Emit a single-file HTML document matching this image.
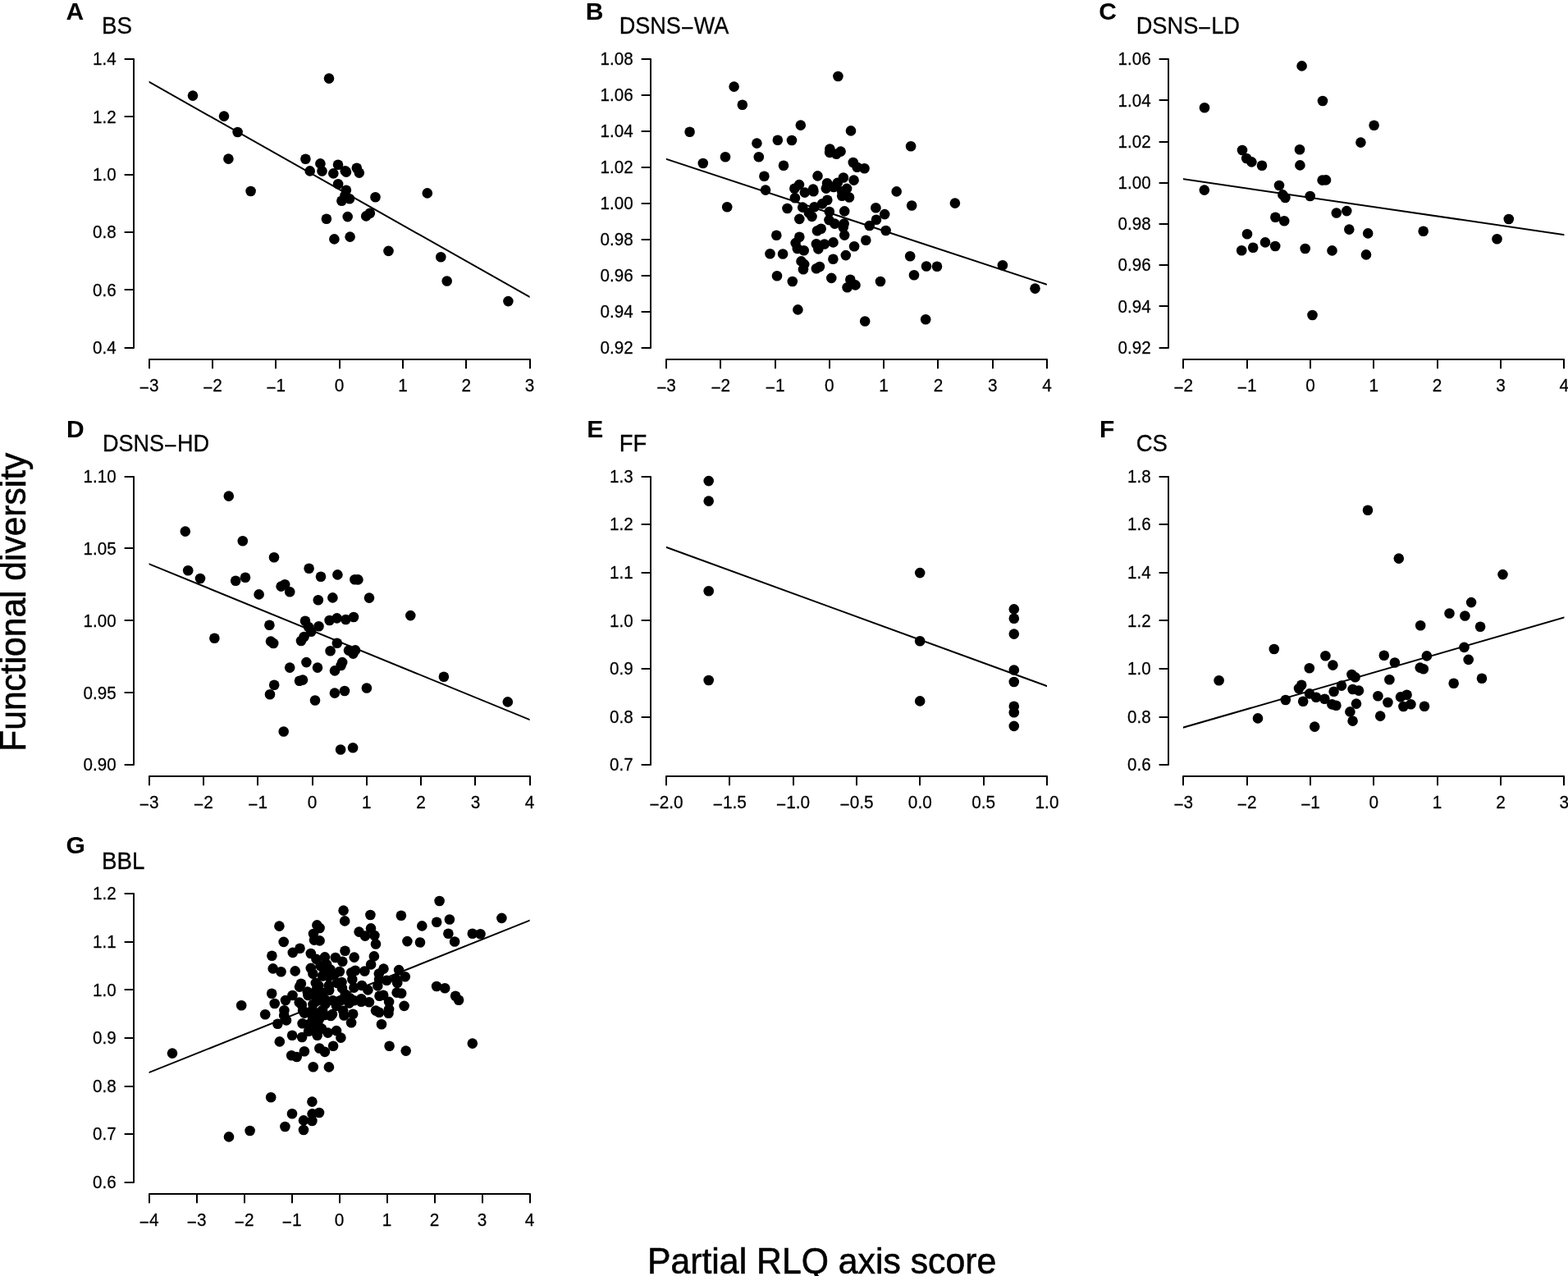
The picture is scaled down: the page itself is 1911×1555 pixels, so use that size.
<!DOCTYPE html>
<html lang="en"><head><meta charset="utf-8"><title>Figure</title>
<style>html,body{margin:0;padding:0;background:#fff}body{width:1911px;height:1555px;overflow:hidden}svg{display:block}text{font-family:"Liberation Sans",Arial,Helvetica,sans-serif;fill:#000}.t{font-size:22.2px;stroke:#000;stroke-width:.25px}.n{font-size:29px;stroke:#000;stroke-width:.3px}.b{font-size:30px;font-weight:bold}.l{font-size:44px;stroke:#000;stroke-width:.6px}.a{stroke:#000;stroke-width:2;fill:none;stroke-linecap:round;stroke-linejoin:round}.r{stroke:#000;stroke-width:2;fill:none;stroke-linecap:butt}circle{fill:#000}</style></head><body>
<svg width="1911" height="1555" viewBox="0 0 1911 1555">
<rect width="1911" height="1555" fill="#fff"/>
<g id="panel-A">
<text class="b" x="80.5" y="24.0">A</text>
<text class="n" transform="translate(124.0 41.3) scale(0.955862 1)">BS</text>
<path class="a" d="M163 72V424M163 424H152.4M163 353H152.4M163 283H152.4M163 213H152.4M163 142H152.4M163 72H152.4"/>
<text class="t" text-anchor="end" transform="translate(141.6 430.9) scale(0.926 1)">0.4</text>
<text class="t" text-anchor="end" transform="translate(141.6 360.6) scale(0.926 1)">0.6</text>
<text class="t" text-anchor="end" transform="translate(141.6 290.3) scale(0.926 1)">0.8</text>
<text class="t" text-anchor="end" transform="translate(141.6 219.9) scale(0.926 1)">1.0</text>
<text class="t" text-anchor="end" transform="translate(141.6 149.6) scale(0.926 1)">1.2</text>
<text class="t" text-anchor="end" transform="translate(141.6 79.3) scale(0.926 1)">1.4</text>
<path class="a" d="M182 438H646M182 438V448.6M259 438V448.6M336 438V448.6M414 438V448.6M491 438V448.6M568 438V448.6M646 438V448.6"/>
<text class="t" text-anchor="middle" transform="translate(181.7 476.8) scale(0.935 1)"><tspan dy="2.9">−</tspan><tspan dy="-2.9">3</tspan></text>
<text class="t" text-anchor="middle" transform="translate(259.0 476.8) scale(0.935 1)"><tspan dy="2.9">−</tspan><tspan dy="-2.9">2</tspan></text>
<text class="t" text-anchor="middle" transform="translate(336.3 476.8) scale(0.935 1)"><tspan dy="2.9">−</tspan><tspan dy="-2.9">1</tspan></text>
<text class="t" text-anchor="middle" transform="translate(413.6 476.8) scale(0.935 1)">0</text>
<text class="t" text-anchor="middle" transform="translate(491.0 476.8) scale(0.935 1)">1</text>
<text class="t" text-anchor="middle" transform="translate(568.3 476.8) scale(0.935 1)">2</text>
<text class="t" text-anchor="middle" transform="translate(645.6 476.8) scale(0.935 1)">3</text>
<clipPath id="cA"><rect x="181.6" y="94.8" width="464.0" height="272.1"/></clipPath>
<path class="r" clip-path="url(#cA)" d="M177.6 97.5L649.6 364.2"/>
<circle cx="235.0" cy="116.6" r="6.3"/>
<circle cx="273.0" cy="141.6" r="6.3"/>
<circle cx="289.6" cy="161.0" r="6.3"/>
<circle cx="278.4" cy="193.6" r="6.3"/>
<circle cx="305.6" cy="233.0" r="6.3"/>
<circle cx="401.0" cy="95.6" r="6.3"/>
<circle cx="372.4" cy="193.7" r="6.3"/>
<circle cx="377.7" cy="208.4" r="6.3"/>
<circle cx="390.4" cy="199.4" r="6.3"/>
<circle cx="392.5" cy="208.5" r="6.3"/>
<circle cx="406.3" cy="211.4" r="6.3"/>
<circle cx="412.0" cy="200.8" r="6.3"/>
<circle cx="420.8" cy="208.2" r="6.3"/>
<circle cx="422.0" cy="209.6" r="6.3"/>
<circle cx="434.8" cy="204.7" r="6.3"/>
<circle cx="437.8" cy="210.6" r="6.3"/>
<circle cx="412.1" cy="224.3" r="6.3"/>
<circle cx="421.9" cy="231.8" r="6.3"/>
<circle cx="420.5" cy="238.2" r="6.3"/>
<circle cx="416.4" cy="244.8" r="6.3"/>
<circle cx="426.0" cy="242.2" r="6.3"/>
<circle cx="457.5" cy="240.2" r="6.3"/>
<circle cx="520.8" cy="235.4" r="6.3"/>
<circle cx="397.9" cy="266.8" r="6.3"/>
<circle cx="423.7" cy="264.1" r="6.3"/>
<circle cx="446.2" cy="263.4" r="6.3"/>
<circle cx="450.9" cy="259.8" r="6.3"/>
<circle cx="407.4" cy="291.4" r="6.3"/>
<circle cx="426.6" cy="288.6" r="6.3"/>
<circle cx="473.5" cy="305.9" r="6.3"/>
<circle cx="537.3" cy="313.3" r="6.3"/>
<circle cx="544.7" cy="342.5" r="6.3"/>
<circle cx="619.4" cy="367.1" r="6.3"/>
</g>
<g id="panel-B">
<text class="b" x="713.7" y="24.0">B</text>
<text class="n" transform="translate(754.7 41.3) scale(0.933655 1)">DSNS<tspan dy="3">−</tspan><tspan dy="-3">WA</tspan></text>
<path class="a" d="M793 72V424M793 424H782.4M793 380H782.4M793 336H782.4M793 292H782.4M793 248H782.4M793 204H782.4M793 160H782.4M793 116H782.4M793 72H782.4"/>
<text class="t" text-anchor="end" transform="translate(771.6 430.9) scale(0.926 1)">0.92</text>
<text class="t" text-anchor="end" transform="translate(771.6 386.9) scale(0.926 1)">0.94</text>
<text class="t" text-anchor="end" transform="translate(771.6 343.0) scale(0.926 1)">0.96</text>
<text class="t" text-anchor="end" transform="translate(771.6 299.0) scale(0.926 1)">0.98</text>
<text class="t" text-anchor="end" transform="translate(771.6 255.1) scale(0.926 1)">1.00</text>
<text class="t" text-anchor="end" transform="translate(771.6 211.1) scale(0.926 1)">1.02</text>
<text class="t" text-anchor="end" transform="translate(771.6 167.2) scale(0.926 1)">1.04</text>
<text class="t" text-anchor="end" transform="translate(771.6 123.2) scale(0.926 1)">1.06</text>
<text class="t" text-anchor="end" transform="translate(771.6 79.3) scale(0.926 1)">1.08</text>
<path class="a" d="M812 438H1276M812 438V448.6M878 438V448.6M945 438V448.6M1011 438V448.6M1077 438V448.6M1143 438V448.6M1210 438V448.6M1276 438V448.6"/>
<text class="t" text-anchor="middle" transform="translate(812.0 476.8) scale(0.935 1)"><tspan dy="2.9">−</tspan><tspan dy="-2.9">3</tspan></text>
<text class="t" text-anchor="middle" transform="translate(878.3 476.8) scale(0.935 1)"><tspan dy="2.9">−</tspan><tspan dy="-2.9">2</tspan></text>
<text class="t" text-anchor="middle" transform="translate(944.6 476.8) scale(0.935 1)"><tspan dy="2.9">−</tspan><tspan dy="-2.9">1</tspan></text>
<text class="t" text-anchor="middle" transform="translate(1010.8 476.8) scale(0.935 1)">0</text>
<text class="t" text-anchor="middle" transform="translate(1077.1 476.8) scale(0.935 1)">1</text>
<text class="t" text-anchor="middle" transform="translate(1143.4 476.8) scale(0.935 1)">2</text>
<text class="t" text-anchor="middle" transform="translate(1209.7 476.8) scale(0.935 1)">3</text>
<text class="t" text-anchor="middle" transform="translate(1276.0 476.8) scale(0.935 1)">4</text>
<clipPath id="cB"><rect x="811.9" y="188.8" width="464.0" height="163.0"/></clipPath>
<path class="r" clip-path="url(#cB)" d="M807.9 192.5L1279.9 348.1"/>
<circle cx="894.6" cy="105.6" r="6.3"/>
<circle cx="904.8" cy="127.8" r="6.3"/>
<circle cx="840.6" cy="160.8" r="6.3"/>
<circle cx="856.8" cy="199.0" r="6.3"/>
<circle cx="884.0" cy="191.2" r="6.3"/>
<circle cx="886.2" cy="252.2" r="6.3"/>
<circle cx="1021.4" cy="93.0" r="6.3"/>
<circle cx="975.8" cy="152.6" r="6.3"/>
<circle cx="947.8" cy="170.8" r="6.3"/>
<circle cx="965.0" cy="171.0" r="6.3"/>
<circle cx="922.4" cy="174.6" r="6.3"/>
<circle cx="924.8" cy="191.2" r="6.3"/>
<circle cx="955.0" cy="201.8" r="6.3"/>
<circle cx="931.4" cy="214.8" r="6.3"/>
<circle cx="933.0" cy="231.6" r="6.3"/>
<circle cx="1037.0" cy="159.4" r="6.3"/>
<circle cx="1110.1" cy="178.3" r="6.3"/>
<circle cx="1092.7" cy="233.4" r="6.3"/>
<circle cx="1111.2" cy="250.5" r="6.3"/>
<circle cx="1163.9" cy="247.6" r="6.3"/>
<circle cx="1067.4" cy="253.3" r="6.3"/>
<circle cx="1078.2" cy="261.1" r="6.3"/>
<circle cx="1068.0" cy="267.8" r="6.3"/>
<circle cx="1059.7" cy="275.0" r="6.3"/>
<circle cx="1079.6" cy="281.0" r="6.3"/>
<circle cx="1055.3" cy="292.8" r="6.3"/>
<circle cx="1041.1" cy="300.3" r="6.3"/>
<circle cx="1030.8" cy="311.1" r="6.3"/>
<circle cx="1015.4" cy="315.7" r="6.3"/>
<circle cx="1109.2" cy="312.3" r="6.3"/>
<circle cx="1129.0" cy="324.5" r="6.3"/>
<circle cx="1142.0" cy="324.7" r="6.3"/>
<circle cx="1114.0" cy="335.3" r="6.3"/>
<circle cx="1073.0" cy="343.0" r="6.3"/>
<circle cx="1013.3" cy="338.9" r="6.3"/>
<circle cx="1036.3" cy="340.8" r="6.3"/>
<circle cx="1042.5" cy="347.4" r="6.3"/>
<circle cx="1032.6" cy="350.3" r="6.3"/>
<circle cx="947.0" cy="336.2" r="6.3"/>
<circle cx="965.8" cy="343.0" r="6.3"/>
<circle cx="938.5" cy="309.3" r="6.3"/>
<circle cx="954.1" cy="309.5" r="6.3"/>
<circle cx="946.3" cy="286.8" r="6.3"/>
<circle cx="972.4" cy="377.4" r="6.3"/>
<circle cx="1054.2" cy="391.5" r="6.3"/>
<circle cx="1128.2" cy="389.2" r="6.3"/>
<circle cx="1221.9" cy="323.3" r="6.3"/>
<circle cx="1261.5" cy="351.6" r="6.3"/>
<circle cx="1011.4" cy="181.5" r="6.3"/>
<circle cx="1011.2" cy="185.9" r="6.3"/>
<circle cx="1019.3" cy="187.7" r="6.3"/>
<circle cx="1024.6" cy="184.6" r="6.3"/>
<circle cx="1039.8" cy="198.0" r="6.3"/>
<circle cx="1044.6" cy="203.8" r="6.3"/>
<circle cx="1053.5" cy="205.2" r="6.3"/>
<circle cx="996.5" cy="214.4" r="6.3"/>
<circle cx="1027.9" cy="216.5" r="6.3"/>
<circle cx="1040.6" cy="219.6" r="6.3"/>
<circle cx="974.0" cy="225.1" r="6.3"/>
<circle cx="968.3" cy="229.8" r="6.3"/>
<circle cx="980.8" cy="234.6" r="6.3"/>
<circle cx="991.0" cy="230.6" r="6.3"/>
<circle cx="991.4" cy="233.2" r="6.3"/>
<circle cx="1008.1" cy="223.3" r="6.3"/>
<circle cx="1006.8" cy="229.6" r="6.3"/>
<circle cx="1020.7" cy="222.9" r="6.3"/>
<circle cx="1016.0" cy="228.0" r="6.3"/>
<circle cx="1032.1" cy="229.9" r="6.3"/>
<circle cx="1026.2" cy="233.2" r="6.3"/>
<circle cx="1026.2" cy="238.7" r="6.3"/>
<circle cx="1035.0" cy="240.5" r="6.3"/>
<circle cx="968.9" cy="241.2" r="6.3"/>
<circle cx="1008.3" cy="243.8" r="6.3"/>
<circle cx="1002.0" cy="248.4" r="6.3"/>
<circle cx="992.5" cy="252.2" r="6.3"/>
<circle cx="978.2" cy="252.6" r="6.3"/>
<circle cx="959.5" cy="254.0" r="6.3"/>
<circle cx="985.9" cy="259.4" r="6.3"/>
<circle cx="989.5" cy="263.9" r="6.3"/>
<circle cx="974.3" cy="266.9" r="6.3"/>
<circle cx="1010.8" cy="258.0" r="6.3"/>
<circle cx="1029.2" cy="257.4" r="6.3"/>
<circle cx="1010.4" cy="268.1" r="6.3"/>
<circle cx="1017.3" cy="272.6" r="6.3"/>
<circle cx="1028.7" cy="272.6" r="6.3"/>
<circle cx="1027.7" cy="277.0" r="6.3"/>
<circle cx="1000.7" cy="278.7" r="6.3"/>
<circle cx="996.0" cy="281.2" r="6.3"/>
<circle cx="1029.2" cy="286.6" r="6.3"/>
<circle cx="974.3" cy="288.8" r="6.3"/>
<circle cx="969.6" cy="296.1" r="6.3"/>
<circle cx="971.8" cy="303.0" r="6.3"/>
<circle cx="979.7" cy="305.2" r="6.3"/>
<circle cx="994.9" cy="297.2" r="6.3"/>
<circle cx="997.3" cy="303.4" r="6.3"/>
<circle cx="1004.8" cy="297.5" r="6.3"/>
<circle cx="1015.5" cy="295.4" r="6.3"/>
<circle cx="976.5" cy="318.4" r="6.3"/>
<circle cx="980.2" cy="322.1" r="6.3"/>
<circle cx="979.0" cy="328.3" r="6.3"/>
<circle cx="998.9" cy="325.0" r="6.3"/>
<circle cx="994.9" cy="327.2" r="6.3"/>
</g>
<g id="panel-C">
<text class="b" x="1339.3" y="24.0">C</text>
<text class="n" transform="translate(1384.7 41.3) scale(0.938483 1)">DSNS<tspan dy="3">−</tspan><tspan dy="-3">LD</tspan></text>
<path class="a" d="M1424 72V424M1424 424H1413.4M1424 373H1413.4M1424 323H1413.4M1424 273H1413.4M1424 223H1413.4M1424 173H1413.4M1424 122H1413.4M1424 72H1413.4"/>
<text class="t" text-anchor="end" transform="translate(1402.6 430.9) scale(0.926 1)">0.92</text>
<text class="t" text-anchor="end" transform="translate(1402.6 380.7) scale(0.926 1)">0.94</text>
<text class="t" text-anchor="end" transform="translate(1402.6 330.4) scale(0.926 1)">0.96</text>
<text class="t" text-anchor="end" transform="translate(1402.6 280.2) scale(0.926 1)">0.98</text>
<text class="t" text-anchor="end" transform="translate(1402.6 230.0) scale(0.926 1)">1.00</text>
<text class="t" text-anchor="end" transform="translate(1402.6 179.8) scale(0.926 1)">1.02</text>
<text class="t" text-anchor="end" transform="translate(1402.6 129.5) scale(0.926 1)">1.04</text>
<text class="t" text-anchor="end" transform="translate(1402.6 79.3) scale(0.926 1)">1.06</text>
<path class="a" d="M1442 438H1906M1442 438V448.6M1520 438V448.6M1597 438V448.6M1674 438V448.6M1752 438V448.6M1829 438V448.6M1906 438V448.6"/>
<text class="t" text-anchor="middle" transform="translate(1442.3 476.8) scale(0.935 1)"><tspan dy="2.9">−</tspan><tspan dy="-2.9">2</tspan></text>
<text class="t" text-anchor="middle" transform="translate(1519.6 476.8) scale(0.935 1)"><tspan dy="2.9">−</tspan><tspan dy="-2.9">1</tspan></text>
<text class="t" text-anchor="middle" transform="translate(1597.0 476.8) scale(0.935 1)">0</text>
<text class="t" text-anchor="middle" transform="translate(1674.3 476.8) scale(0.935 1)">1</text>
<text class="t" text-anchor="middle" transform="translate(1751.6 476.8) scale(0.935 1)">2</text>
<text class="t" text-anchor="middle" transform="translate(1829.0 476.8) scale(0.935 1)">3</text>
<text class="t" text-anchor="middle" transform="translate(1906.3 476.8) scale(0.935 1)">4</text>
<clipPath id="cC"><rect x="1441.9" y="213.2" width="464.5" height="77.9"/></clipPath>
<path class="r" clip-path="url(#cC)" d="M1437.9 217.6L1910.4 286.7"/>
<circle cx="1586.6" cy="80.4" r="6.3"/>
<circle cx="1612.0" cy="123.0" r="6.3"/>
<circle cx="1468.0" cy="131.2" r="6.3"/>
<circle cx="1674.6" cy="152.8" r="6.3"/>
<circle cx="1658.4" cy="173.6" r="6.3"/>
<circle cx="1514.0" cy="183.0" r="6.3"/>
<circle cx="1519.2" cy="193.0" r="6.3"/>
<circle cx="1525.4" cy="197.4" r="6.3"/>
<circle cx="1538.0" cy="201.8" r="6.3"/>
<circle cx="1584.0" cy="182.2" r="6.3"/>
<circle cx="1584.4" cy="201.4" r="6.3"/>
<circle cx="1611.6" cy="219.6" r="6.3"/>
<circle cx="1616.0" cy="219.4" r="6.3"/>
<circle cx="1559.0" cy="226.0" r="6.3"/>
<circle cx="1563.4" cy="237.4" r="6.3"/>
<circle cx="1566.4" cy="241.0" r="6.3"/>
<circle cx="1596.7" cy="239.0" r="6.3"/>
<circle cx="1467.8" cy="231.6" r="6.3"/>
<circle cx="1628.8" cy="259.5" r="6.3"/>
<circle cx="1641.3" cy="257.1" r="6.3"/>
<circle cx="1554.4" cy="264.8" r="6.3"/>
<circle cx="1565.2" cy="269.2" r="6.3"/>
<circle cx="1644.3" cy="279.6" r="6.3"/>
<circle cx="1667.2" cy="284.4" r="6.3"/>
<circle cx="1734.7" cy="281.8" r="6.3"/>
<circle cx="1520.0" cy="285.2" r="6.3"/>
<circle cx="1542.0" cy="295.4" r="6.3"/>
<circle cx="1513.2" cy="305.2" r="6.3"/>
<circle cx="1527.2" cy="301.8" r="6.3"/>
<circle cx="1554.2" cy="300.0" r="6.3"/>
<circle cx="1590.7" cy="303.0" r="6.3"/>
<circle cx="1623.5" cy="305.4" r="6.3"/>
<circle cx="1665.0" cy="310.4" r="6.3"/>
<circle cx="1599.5" cy="384.0" r="6.3"/>
<circle cx="1838.8" cy="267.0" r="6.3"/>
<circle cx="1824.5" cy="291.2" r="6.3"/>
</g>
<g id="panel-D">
<text class="b" x="81.1" y="532.6">D</text>
<text class="n" transform="translate(124.9 549.9) scale(0.933655 1)">DSNS<tspan dy="3">−</tspan><tspan dy="-3">HD</tspan></text>
<path class="a" d="M163 581V932M163 932H152.4M163 844H152.4M163 756H152.4M163 668H152.4M163 581H152.4"/>
<text class="t" text-anchor="end" transform="translate(141.6 939.4) scale(0.926 1)">0.90</text>
<text class="t" text-anchor="end" transform="translate(141.6 851.5) scale(0.926 1)">0.95</text>
<text class="t" text-anchor="end" transform="translate(141.6 763.6) scale(0.926 1)">1.00</text>
<text class="t" text-anchor="end" transform="translate(141.6 675.7) scale(0.926 1)">1.05</text>
<text class="t" text-anchor="end" transform="translate(141.6 587.8) scale(0.926 1)">1.10</text>
<path class="a" d="M182 946H646M182 946V956.6M248 946V956.6M314 946V956.6M381 946V956.6M447 946V956.6M513 946V956.6M579 946V956.6M646 946V956.6"/>
<text class="t" text-anchor="middle" transform="translate(181.7 984.8) scale(0.935 1)"><tspan dy="2.9">−</tspan><tspan dy="-2.9">3</tspan></text>
<text class="t" text-anchor="middle" transform="translate(247.9 984.8) scale(0.935 1)"><tspan dy="2.9">−</tspan><tspan dy="-2.9">2</tspan></text>
<text class="t" text-anchor="middle" transform="translate(314.2 984.8) scale(0.935 1)"><tspan dy="2.9">−</tspan><tspan dy="-2.9">1</tspan></text>
<text class="t" text-anchor="middle" transform="translate(380.5 984.8) scale(0.935 1)">0</text>
<text class="t" text-anchor="middle" transform="translate(446.8 984.8) scale(0.935 1)">1</text>
<text class="t" text-anchor="middle" transform="translate(513.1 984.8) scale(0.935 1)">2</text>
<text class="t" text-anchor="middle" transform="translate(579.4 984.8) scale(0.935 1)">3</text>
<text class="t" text-anchor="middle" transform="translate(645.6 984.8) scale(0.935 1)">4</text>
<clipPath id="cD"><rect x="181.6" y="682.2" width="464.0" height="199.9"/></clipPath>
<path class="r" clip-path="url(#cD)" d="M177.6 685.6L649.6 878.7"/>
<circle cx="278.8" cy="604.6" r="6.3"/>
<circle cx="225.8" cy="647.6" r="6.3"/>
<circle cx="295.8" cy="659.2" r="6.3"/>
<circle cx="334.0" cy="679.2" r="6.3"/>
<circle cx="229.2" cy="695.2" r="6.3"/>
<circle cx="244.0" cy="705.0" r="6.3"/>
<circle cx="287.2" cy="707.8" r="6.3"/>
<circle cx="299.0" cy="703.8" r="6.3"/>
<circle cx="315.6" cy="724.4" r="6.3"/>
<circle cx="342.6" cy="714.6" r="6.3"/>
<circle cx="347.2" cy="712.2" r="6.3"/>
<circle cx="353.2" cy="721.2" r="6.3"/>
<circle cx="376.6" cy="692.8" r="6.3"/>
<circle cx="391.0" cy="702.8" r="6.3"/>
<circle cx="411.4" cy="700.4" r="6.3"/>
<circle cx="432.4" cy="706.2" r="6.3"/>
<circle cx="436.4" cy="706.4" r="6.3"/>
<circle cx="387.8" cy="731.2" r="6.3"/>
<circle cx="405.4" cy="728.4" r="6.3"/>
<circle cx="450.0" cy="728.6" r="6.3"/>
<circle cx="500.3" cy="750.1" r="6.3"/>
<circle cx="401.6" cy="756.0" r="6.3"/>
<circle cx="410.6" cy="753.4" r="6.3"/>
<circle cx="421.4" cy="755.0" r="6.3"/>
<circle cx="431.0" cy="752.0" r="6.3"/>
<circle cx="372.0" cy="756.8" r="6.3"/>
<circle cx="376.0" cy="764.0" r="6.3"/>
<circle cx="379.2" cy="769.8" r="6.3"/>
<circle cx="388.5" cy="763.3" r="6.3"/>
<circle cx="370.6" cy="776.0" r="6.3"/>
<circle cx="367.0" cy="781.0" r="6.3"/>
<circle cx="328.4" cy="761.8" r="6.3"/>
<circle cx="330.0" cy="781.6" r="6.3"/>
<circle cx="333.2" cy="784.0" r="6.3"/>
<circle cx="261.4" cy="777.8" r="6.3"/>
<circle cx="410.8" cy="783.8" r="6.3"/>
<circle cx="402.6" cy="793.2" r="6.3"/>
<circle cx="425.0" cy="792.6" r="6.3"/>
<circle cx="433.0" cy="792.4" r="6.3"/>
<circle cx="430.4" cy="796.6" r="6.3"/>
<circle cx="373.4" cy="807.1" r="6.3"/>
<circle cx="353.2" cy="813.6" r="6.3"/>
<circle cx="387.0" cy="813.6" r="6.3"/>
<circle cx="417.2" cy="807.1" r="6.3"/>
<circle cx="415.6" cy="811.0" r="6.3"/>
<circle cx="408.0" cy="817.4" r="6.3"/>
<circle cx="365.0" cy="829.8" r="6.3"/>
<circle cx="369.0" cy="828.6" r="6.3"/>
<circle cx="334.2" cy="834.8" r="6.3"/>
<circle cx="329.0" cy="846.2" r="6.3"/>
<circle cx="384.0" cy="853.5" r="6.3"/>
<circle cx="407.9" cy="844.6" r="6.3"/>
<circle cx="420.0" cy="842.0" r="6.3"/>
<circle cx="446.9" cy="838.5" r="6.3"/>
<circle cx="540.9" cy="824.8" r="6.3"/>
<circle cx="345.7" cy="891.5" r="6.3"/>
<circle cx="618.8" cy="855.4" r="6.3"/>
<circle cx="415.1" cy="913.5" r="6.3"/>
<circle cx="430.1" cy="911.3" r="6.3"/>
</g>
<g id="panel-E">
<text class="b" x="715.3" y="532.6">E</text>
<text class="n" transform="translate(754.7 549.9) scale(0.946207 1)">FF</text>
<path class="a" d="M793 581V932M793 932H782.4M793 874H782.4M793 815H782.4M793 756H782.4M793 698H782.4M793 639H782.4M793 581H782.4"/>
<text class="t" text-anchor="end" transform="translate(771.6 939.4) scale(0.926 1)">0.7</text>
<text class="t" text-anchor="end" transform="translate(771.6 880.8) scale(0.926 1)">0.8</text>
<text class="t" text-anchor="end" transform="translate(771.6 822.2) scale(0.926 1)">0.9</text>
<text class="t" text-anchor="end" transform="translate(771.6 763.6) scale(0.926 1)">1.0</text>
<text class="t" text-anchor="end" transform="translate(771.6 705.0) scale(0.926 1)">1.1</text>
<text class="t" text-anchor="end" transform="translate(771.6 646.4) scale(0.926 1)">1.2</text>
<text class="t" text-anchor="end" transform="translate(771.6 587.8) scale(0.926 1)">1.3</text>
<path class="a" d="M812 946H1276M812 946V956.6M889 946V956.6M967 946V956.6M1044 946V956.6M1121 946V956.6M1199 946V956.6M1276 946V956.6"/>
<text class="t" text-anchor="middle" transform="translate(812.0 984.8) scale(0.935 1)"><tspan dy="2.9">−</tspan><tspan dy="-2.9">2.0</tspan></text>
<text class="t" text-anchor="middle" transform="translate(889.3 984.8) scale(0.935 1)"><tspan dy="2.9">−</tspan><tspan dy="-2.9">1.5</tspan></text>
<text class="t" text-anchor="middle" transform="translate(966.6 984.8) scale(0.935 1)"><tspan dy="2.9">−</tspan><tspan dy="-2.9">1.0</tspan></text>
<text class="t" text-anchor="middle" transform="translate(1044.0 984.8) scale(0.935 1)"><tspan dy="2.9">−</tspan><tspan dy="-2.9">0.5</tspan></text>
<text class="t" text-anchor="middle" transform="translate(1121.3 984.8) scale(0.935 1)">0.0</text>
<text class="t" text-anchor="middle" transform="translate(1198.6 984.8) scale(0.935 1)">0.5</text>
<text class="t" text-anchor="middle" transform="translate(1276.0 984.8) scale(0.935 1)">1.0</text>
<clipPath id="cE"><rect x="811.9" y="661.9" width="464.0" height="179.1"/></clipPath>
<path class="r" clip-path="url(#cE)" d="M807.9 665.4L1279.9 837.5"/>
<circle cx="863.7" cy="586.1" r="6.3"/>
<circle cx="863.7" cy="610.6" r="6.3"/>
<circle cx="863.7" cy="720.3" r="6.3"/>
<circle cx="863.7" cy="829.0" r="6.3"/>
<circle cx="1121.2" cy="698.1" r="6.3"/>
<circle cx="1121.2" cy="781.3" r="6.3"/>
<circle cx="1121.2" cy="854.4" r="6.3"/>
<circle cx="1235.8" cy="742.4" r="6.3"/>
<circle cx="1235.8" cy="753.8" r="6.3"/>
<circle cx="1235.8" cy="772.6" r="6.3"/>
<circle cx="1235.8" cy="816.5" r="6.3"/>
<circle cx="1235.8" cy="831.0" r="6.3"/>
<circle cx="1235.8" cy="860.8" r="6.3"/>
<circle cx="1235.8" cy="868.2" r="6.3"/>
<circle cx="1235.8" cy="884.9" r="6.3"/>
</g>
<g id="panel-F">
<text class="b" x="1340.0" y="532.6">F</text>
<text class="n" transform="translate(1384.7 549.9) scale(0.951034 1)">CS</text>
<path class="a" d="M1424 581V932M1424 932H1413.4M1424 874H1413.4M1424 815H1413.4M1424 756H1413.4M1424 698H1413.4M1424 639H1413.4M1424 581H1413.4"/>
<text class="t" text-anchor="end" transform="translate(1402.6 939.4) scale(0.926 1)">0.6</text>
<text class="t" text-anchor="end" transform="translate(1402.6 880.8) scale(0.926 1)">0.8</text>
<text class="t" text-anchor="end" transform="translate(1402.6 822.2) scale(0.926 1)">1.0</text>
<text class="t" text-anchor="end" transform="translate(1402.6 763.6) scale(0.926 1)">1.2</text>
<text class="t" text-anchor="end" transform="translate(1402.6 705.0) scale(0.926 1)">1.4</text>
<text class="t" text-anchor="end" transform="translate(1402.6 646.4) scale(0.926 1)">1.6</text>
<text class="t" text-anchor="end" transform="translate(1402.6 587.8) scale(0.926 1)">1.8</text>
<path class="a" d="M1442 946H1906M1442 946V956.6M1520 946V956.6M1597 946V956.6M1674 946V956.6M1752 946V956.6M1829 946V956.6M1906 946V956.6"/>
<text class="t" text-anchor="middle" transform="translate(1442.3 984.8) scale(0.935 1)"><tspan dy="2.9">−</tspan><tspan dy="-2.9">3</tspan></text>
<text class="t" text-anchor="middle" transform="translate(1519.6 984.8) scale(0.935 1)"><tspan dy="2.9">−</tspan><tspan dy="-2.9">2</tspan></text>
<text class="t" text-anchor="middle" transform="translate(1597.0 984.8) scale(0.935 1)"><tspan dy="2.9">−</tspan><tspan dy="-2.9">1</tspan></text>
<text class="t" text-anchor="middle" transform="translate(1674.3 984.8) scale(0.935 1)">0</text>
<text class="t" text-anchor="middle" transform="translate(1751.6 984.8) scale(0.935 1)">1</text>
<text class="t" text-anchor="middle" transform="translate(1829.0 984.8) scale(0.935 1)">2</text>
<text class="t" text-anchor="middle" transform="translate(1906.3 984.8) scale(0.935 1)">3</text>
<clipPath id="cF"><rect x="1441.9" y="747.5" width="464.5" height="144.1"/></clipPath>
<path class="r" clip-path="url(#cF)" d="M1437.9 887.8L1910.4 751.3"/>
<circle cx="1667.0" cy="621.8" r="6.3"/>
<circle cx="1704.8" cy="680.6" r="6.3"/>
<circle cx="1793.1" cy="734.1" r="6.3"/>
<circle cx="1766.5" cy="747.5" r="6.3"/>
<circle cx="1785.4" cy="750.5" r="6.3"/>
<circle cx="1731.2" cy="762.3" r="6.3"/>
<circle cx="1804.1" cy="763.7" r="6.3"/>
<circle cx="1552.8" cy="791.0" r="6.3"/>
<circle cx="1615.4" cy="799.2" r="6.3"/>
<circle cx="1624.4" cy="810.6" r="6.3"/>
<circle cx="1595.8" cy="814.2" r="6.3"/>
<circle cx="1686.8" cy="798.8" r="6.3"/>
<circle cx="1699.9" cy="807.5" r="6.3"/>
<circle cx="1738.9" cy="799.4" r="6.3"/>
<circle cx="1784.5" cy="788.9" r="6.3"/>
<circle cx="1789.7" cy="803.9" r="6.3"/>
<circle cx="1730.7" cy="813.6" r="6.3"/>
<circle cx="1734.8" cy="815.2" r="6.3"/>
<circle cx="1485.6" cy="829.2" r="6.3"/>
<circle cx="1647.4" cy="822.0" r="6.3"/>
<circle cx="1651.6" cy="825.2" r="6.3"/>
<circle cx="1693.4" cy="828.3" r="6.3"/>
<circle cx="1806.0" cy="826.7" r="6.3"/>
<circle cx="1771.7" cy="832.7" r="6.3"/>
<circle cx="1586.2" cy="834.8" r="6.3"/>
<circle cx="1583.0" cy="839.0" r="6.3"/>
<circle cx="1635.0" cy="835.6" r="6.3"/>
<circle cx="1625.6" cy="842.8" r="6.3"/>
<circle cx="1648.6" cy="840.0" r="6.3"/>
<circle cx="1656.0" cy="841.6" r="6.3"/>
<circle cx="1596.0" cy="845.4" r="6.3"/>
<circle cx="1604.0" cy="849.8" r="6.3"/>
<circle cx="1614.4" cy="851.8" r="6.3"/>
<circle cx="1566.8" cy="853.0" r="6.3"/>
<circle cx="1588.2" cy="854.8" r="6.3"/>
<circle cx="1623.4" cy="858.4" r="6.3"/>
<circle cx="1628.4" cy="859.8" r="6.3"/>
<circle cx="1653.0" cy="857.6" r="6.3"/>
<circle cx="1679.4" cy="848.2" r="6.3"/>
<circle cx="1691.4" cy="856.0" r="6.3"/>
<circle cx="1707.0" cy="849.4" r="6.3"/>
<circle cx="1714.6" cy="846.8" r="6.3"/>
<circle cx="1710.4" cy="861.0" r="6.3"/>
<circle cx="1719.4" cy="858.2" r="6.3"/>
<circle cx="1736.0" cy="860.8" r="6.3"/>
<circle cx="1645.4" cy="867.4" r="6.3"/>
<circle cx="1648.6" cy="878.6" r="6.3"/>
<circle cx="1682.2" cy="872.6" r="6.3"/>
<circle cx="1533.0" cy="875.4" r="6.3"/>
<circle cx="1602.2" cy="885.6" r="6.3"/>
<circle cx="1831.5" cy="700.1" r="6.3"/>
</g>
<g id="panel-G">
<text class="b" x="80.5" y="1040.1">G</text>
<text class="n" transform="translate(124.0 1058.6) scale(0.955862 1)">BBL</text>
<path class="a" d="M163 1089V1441M163 1441H152.4M163 1382H152.4M163 1324H152.4M163 1265H152.4M163 1206H152.4M163 1148H152.4M163 1089H152.4"/>
<text class="t" text-anchor="end" transform="translate(141.6 1447.9) scale(0.926 1)">0.6</text>
<text class="t" text-anchor="end" transform="translate(141.6 1389.3) scale(0.926 1)">0.7</text>
<text class="t" text-anchor="end" transform="translate(141.6 1330.7) scale(0.926 1)">0.8</text>
<text class="t" text-anchor="end" transform="translate(141.6 1272.1) scale(0.926 1)">0.9</text>
<text class="t" text-anchor="end" transform="translate(141.6 1213.5) scale(0.926 1)">1.0</text>
<text class="t" text-anchor="end" transform="translate(141.6 1154.9) scale(0.926 1)">1.1</text>
<text class="t" text-anchor="end" transform="translate(141.6 1096.3) scale(0.926 1)">1.2</text>
<path class="a" d="M182 1455H646M182 1455V1465.6M240 1455V1465.6M298 1455V1465.6M356 1455V1465.6M414 1455V1465.6M472 1455V1465.6M530 1455V1465.6M588 1455V1465.6M646 1455V1465.6"/>
<text class="t" text-anchor="middle" transform="translate(181.7 1493.8) scale(0.935 1)"><tspan dy="2.9">−</tspan><tspan dy="-2.9">4</tspan></text>
<text class="t" text-anchor="middle" transform="translate(239.7 1493.8) scale(0.935 1)"><tspan dy="2.9">−</tspan><tspan dy="-2.9">3</tspan></text>
<text class="t" text-anchor="middle" transform="translate(297.6 1493.8) scale(0.935 1)"><tspan dy="2.9">−</tspan><tspan dy="-2.9">2</tspan></text>
<text class="t" text-anchor="middle" transform="translate(355.6 1493.8) scale(0.935 1)"><tspan dy="2.9">−</tspan><tspan dy="-2.9">1</tspan></text>
<text class="t" text-anchor="middle" transform="translate(413.6 1493.8) scale(0.935 1)">0</text>
<text class="t" text-anchor="middle" transform="translate(471.6 1493.8) scale(0.935 1)">1</text>
<text class="t" text-anchor="middle" transform="translate(529.6 1493.8) scale(0.935 1)">2</text>
<text class="t" text-anchor="middle" transform="translate(587.6 1493.8) scale(0.935 1)">3</text>
<text class="t" text-anchor="middle" transform="translate(645.6 1493.8) scale(0.935 1)">4</text>
<clipPath id="cG"><rect x="181.6" y="1116.7" width="464.0" height="195.3"/></clipPath>
<path class="r" clip-path="url(#cG)" d="M177.6 1308.6L649.6 1120.1"/>
<circle cx="210.0" cy="1283.6" r="6.3"/>
<circle cx="294.2" cy="1225.2" r="6.3"/>
<circle cx="323.2" cy="1236.2" r="6.3"/>
<circle cx="279.0" cy="1385.4" r="6.3"/>
<circle cx="304.6" cy="1378.0" r="6.3"/>
<circle cx="330.2" cy="1337.2" r="6.3"/>
<circle cx="347.4" cy="1373.0" r="6.3"/>
<circle cx="356.0" cy="1357.2" r="6.3"/>
<circle cx="370.0" cy="1365.4" r="6.3"/>
<circle cx="370.0" cy="1377.0" r="6.3"/>
<circle cx="380.4" cy="1342.6" r="6.3"/>
<circle cx="380.6" cy="1357.4" r="6.3"/>
<circle cx="380.4" cy="1366.0" r="6.3"/>
<circle cx="389.0" cy="1356.0" r="6.3"/>
<circle cx="381.7" cy="1300.2" r="6.3"/>
<circle cx="400.9" cy="1300.4" r="6.3"/>
<circle cx="355.2" cy="1286.2" r="6.3"/>
<circle cx="361.7" cy="1288.0" r="6.3"/>
<circle cx="370.9" cy="1281.3" r="6.3"/>
<circle cx="389.3" cy="1277.5" r="6.3"/>
<circle cx="395.9" cy="1281.9" r="6.3"/>
<circle cx="406.1" cy="1274.8" r="6.3"/>
<circle cx="340.8" cy="1269.4" r="6.3"/>
<circle cx="356.1" cy="1261.8" r="6.3"/>
<circle cx="368.1" cy="1264.0" r="6.3"/>
<circle cx="474.6" cy="1274.8" r="6.3"/>
<circle cx="494.7" cy="1280.6" r="6.3"/>
<circle cx="465.0" cy="1248.2" r="6.3"/>
<circle cx="492.6" cy="1225.9" r="6.3"/>
<circle cx="575.8" cy="1271.6" r="6.3"/>
<circle cx="340.4" cy="1128.6" r="6.3"/>
<circle cx="345.7" cy="1147.9" r="6.3"/>
<circle cx="331.4" cy="1164.7" r="6.3"/>
<circle cx="356.8" cy="1160.9" r="6.3"/>
<circle cx="365.5" cy="1155.8" r="6.3"/>
<circle cx="332.7" cy="1180.4" r="6.3"/>
<circle cx="342.5" cy="1184.3" r="6.3"/>
<circle cx="359.7" cy="1183.4" r="6.3"/>
<circle cx="331.2" cy="1210.8" r="6.3"/>
<circle cx="334.7" cy="1223.0" r="6.3"/>
<circle cx="386.4" cy="1127.4" r="6.3"/>
<circle cx="389.6" cy="1131.0" r="6.3"/>
<circle cx="382.0" cy="1138.0" r="6.3"/>
<circle cx="383.0" cy="1145.6" r="6.3"/>
<circle cx="389.6" cy="1146.4" r="6.3"/>
<circle cx="418.6" cy="1109.6" r="6.3"/>
<circle cx="420.2" cy="1122.4" r="6.3"/>
<circle cx="451.4" cy="1115.0" r="6.3"/>
<circle cx="488.9" cy="1115.7" r="6.3"/>
<circle cx="535.6" cy="1098.0" r="6.3"/>
<circle cx="514.3" cy="1128.4" r="6.3"/>
<circle cx="532.2" cy="1123.7" r="6.3"/>
<circle cx="547.9" cy="1120.5" r="6.3"/>
<circle cx="546.4" cy="1137.7" r="6.3"/>
<circle cx="554.1" cy="1147.5" r="6.3"/>
<circle cx="496.4" cy="1147.1" r="6.3"/>
<circle cx="512.0" cy="1148.5" r="6.3"/>
<circle cx="437.6" cy="1135.6" r="6.3"/>
<circle cx="445.0" cy="1140.6" r="6.3"/>
<circle cx="452.0" cy="1131.4" r="6.3"/>
<circle cx="456.4" cy="1140.0" r="6.3"/>
<circle cx="458.0" cy="1150.5" r="6.3"/>
<circle cx="420.5" cy="1158.7" r="6.3"/>
<circle cx="431.7" cy="1166.6" r="6.3"/>
<circle cx="455.9" cy="1165.4" r="6.3"/>
<circle cx="452.1" cy="1175.4" r="6.3"/>
<circle cx="532.1" cy="1202.0" r="6.3"/>
<circle cx="542.2" cy="1204.2" r="6.3"/>
<circle cx="555.1" cy="1213.8" r="6.3"/>
<circle cx="559.1" cy="1218.8" r="6.3"/>
<circle cx="575.8" cy="1137.8" r="6.3"/>
<circle cx="585.5" cy="1138.2" r="6.3"/>
<circle cx="611.4" cy="1118.9" r="6.3"/>
<circle cx="378.8" cy="1162.0" r="6.3"/>
<circle cx="385.5" cy="1168.9" r="6.3"/>
<circle cx="395.9" cy="1166.4" r="6.3"/>
<circle cx="408.8" cy="1167.0" r="6.3"/>
<circle cx="417.3" cy="1171.7" r="6.3"/>
<circle cx="378.8" cy="1179.9" r="6.3"/>
<circle cx="381.4" cy="1186.6" r="6.3"/>
<circle cx="390.5" cy="1177.1" r="6.3"/>
<circle cx="398.1" cy="1175.2" r="6.3"/>
<circle cx="402.5" cy="1181.5" r="6.3"/>
<circle cx="393.0" cy="1189.5" r="6.3"/>
<circle cx="413.8" cy="1184.0" r="6.3"/>
<circle cx="407.5" cy="1187.8" r="6.3"/>
<circle cx="428.3" cy="1185.3" r="6.3"/>
<circle cx="433.0" cy="1182.8" r="6.3"/>
<circle cx="444.4" cy="1183.5" r="6.3"/>
<circle cx="429.3" cy="1193.5" r="6.3"/>
<circle cx="441.0" cy="1201.0" r="6.3"/>
<circle cx="448.4" cy="1206.4" r="6.3"/>
<circle cx="431.4" cy="1203.6" r="6.3"/>
<circle cx="366.9" cy="1198.8" r="6.3"/>
<circle cx="365.0" cy="1202.6" r="6.3"/>
<circle cx="384.8" cy="1197.9" r="6.3"/>
<circle cx="400.8" cy="1201.3" r="6.3"/>
<circle cx="410.7" cy="1197.9" r="6.3"/>
<circle cx="417.0" cy="1204.2" r="6.3"/>
<circle cx="401.2" cy="1206.7" r="6.3"/>
<circle cx="374.7" cy="1208.6" r="6.3"/>
<circle cx="375.4" cy="1213.0" r="6.3"/>
<circle cx="385.5" cy="1206.7" r="6.3"/>
<circle cx="393.0" cy="1209.9" r="6.3"/>
<circle cx="356.5" cy="1213.0" r="6.3"/>
<circle cx="348.0" cy="1219.0" r="6.3"/>
<circle cx="364.7" cy="1221.5" r="6.3"/>
<circle cx="367.8" cy="1224.5" r="6.3"/>
<circle cx="420.8" cy="1211.8" r="6.3"/>
<circle cx="426.4" cy="1216.2" r="6.3"/>
<circle cx="440.3" cy="1217.2" r="6.3"/>
<circle cx="440.3" cy="1220.8" r="6.3"/>
<circle cx="449.9" cy="1221.2" r="6.3"/>
<circle cx="415.1" cy="1219.3" r="6.3"/>
<circle cx="405.6" cy="1219.3" r="6.3"/>
<circle cx="396.2" cy="1218.1" r="6.3"/>
<circle cx="386.7" cy="1219.3" r="6.3"/>
<circle cx="381.5" cy="1224.0" r="6.3"/>
<circle cx="346.4" cy="1231.2" r="6.3"/>
<circle cx="346.2" cy="1237.5" r="6.3"/>
<circle cx="349.0" cy="1243.4" r="6.3"/>
<circle cx="338.4" cy="1247.8" r="6.3"/>
<circle cx="369.1" cy="1231.4" r="6.3"/>
<circle cx="371.0" cy="1234.6" r="6.3"/>
<circle cx="405.0" cy="1236.1" r="6.3"/>
<circle cx="403.1" cy="1238.0" r="6.3"/>
<circle cx="418.2" cy="1231.7" r="6.3"/>
<circle cx="419.3" cy="1237.5" r="6.3"/>
<circle cx="430.2" cy="1235.8" r="6.3"/>
<circle cx="428.1" cy="1246.3" r="6.3"/>
<circle cx="368.6" cy="1247.2" r="6.3"/>
<circle cx="467.5" cy="1180.6" r="6.3"/>
<circle cx="461.8" cy="1186.6" r="6.3"/>
<circle cx="486.1" cy="1182.1" r="6.3"/>
<circle cx="493.7" cy="1190.3" r="6.3"/>
<circle cx="471.3" cy="1194.7" r="6.3"/>
<circle cx="462.1" cy="1193.5" r="6.3"/>
<circle cx="482.3" cy="1192.9" r="6.3"/>
<circle cx="484.2" cy="1197.9" r="6.3"/>
<circle cx="460.3" cy="1201.4" r="6.3"/>
<circle cx="462.5" cy="1213.7" r="6.3"/>
<circle cx="467.2" cy="1212.7" r="6.3"/>
<circle cx="483.6" cy="1209.6" r="6.3"/>
<circle cx="489.2" cy="1210.5" r="6.3"/>
<circle cx="474.1" cy="1220.9" r="6.3"/>
<circle cx="474.1" cy="1230.0" r="6.3"/>
<circle cx="473.5" cy="1234.8" r="6.3"/>
<circle cx="458.0" cy="1231.6" r="6.3"/>
<circle cx="462.1" cy="1233.8" r="6.3"/>
<circle cx="415.4" cy="1264.6" r="6.3"/>
<circle cx="410.0" cy="1256.1" r="6.3"/>
<circle cx="399.6" cy="1258.6" r="6.3"/>
<circle cx="386.7" cy="1261.8" r="6.3"/>
<circle cx="392.1" cy="1253.6" r="6.3"/>
<circle cx="376.0" cy="1256.7" r="6.3"/>
<circle cx="379.0" cy="1232.5" r="6.3"/>
<circle cx="386.0" cy="1234.5" r="6.3"/>
<circle cx="393.0" cy="1231.0" r="6.3"/>
<circle cx="395.5" cy="1237.0" r="6.3"/>
<circle cx="381.0" cy="1240.0" r="6.3"/>
<circle cx="389.0" cy="1242.0" r="6.3"/>
<circle cx="410.0" cy="1226.0" r="6.3"/>
<circle cx="377.0" cy="1248.0" r="6.3"/>
<circle cx="383.0" cy="1250.0" r="6.3"/>
<circle cx="387.5" cy="1249.5" r="6.3"/>
<circle cx="382.0" cy="1256.0" r="6.3"/>
<circle cx="400.6" cy="1190.3" r="6.3"/>
<circle cx="416.5" cy="1197.0" r="6.3"/>
<circle cx="389.9" cy="1215.0" r="6.3"/>
<circle cx="396.5" cy="1223.5" r="6.3"/>
<circle cx="384.0" cy="1213.0" r="6.3"/>
<circle cx="395.5" cy="1184.0" r="6.3"/>
<circle cx="431.5" cy="1219.3" r="6.3"/>
<circle cx="388.3" cy="1201.2" r="6.3"/>
<circle cx="425.5" cy="1222.5" r="6.3"/>
</g>
<text class="l" text-anchor="middle" transform="translate(1001.6 1552.4) scale(0.972 1)">Partial RLQ axis score</text>
<text class="l" text-anchor="middle" transform="translate(31.1 733.7) rotate(-90) scale(0.967 1)">Functional diversity</text>
</svg></body></html>
